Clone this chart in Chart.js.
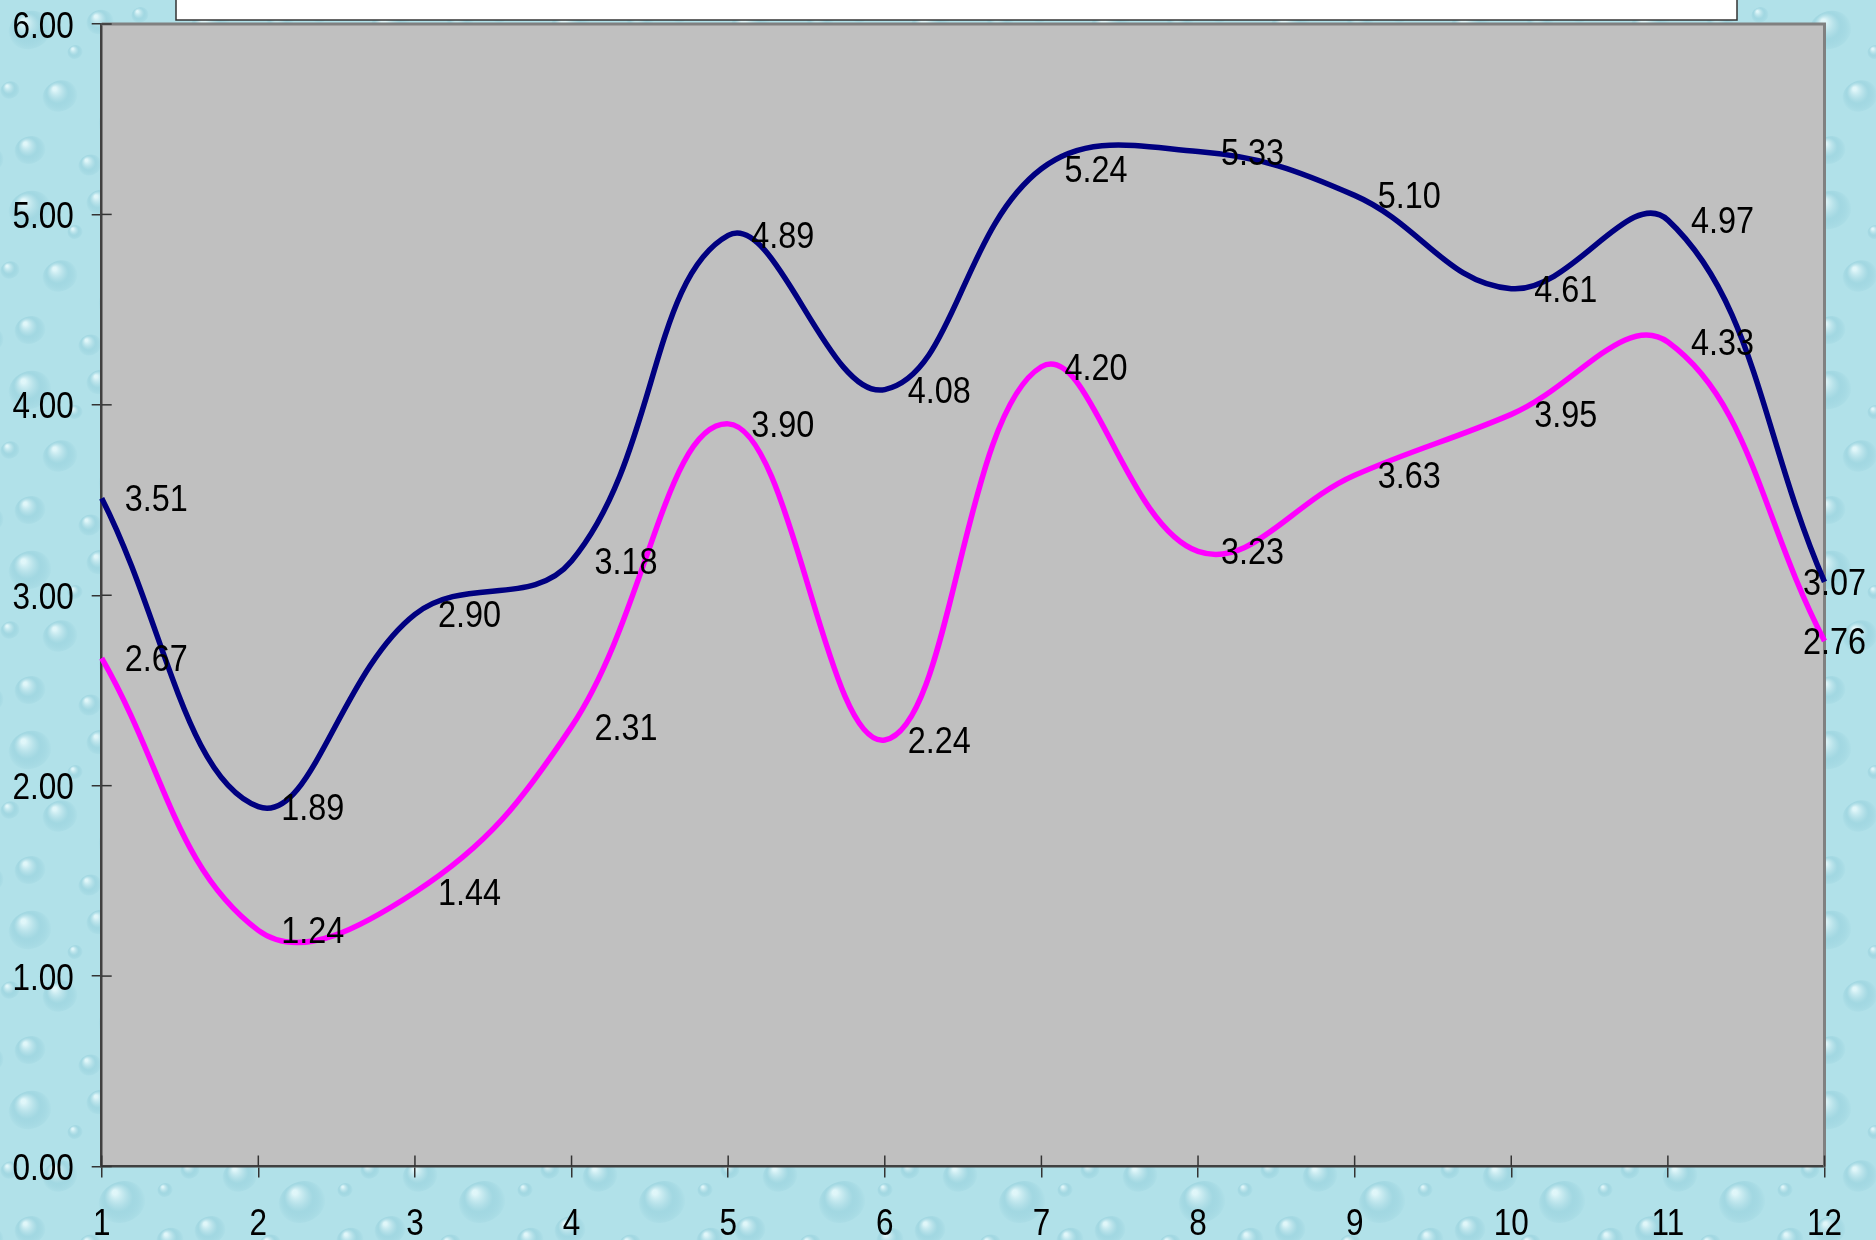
<!DOCTYPE html>
<html><head><meta charset="utf-8">
<script src="https://cdn.jsdelivr.net/npm/chart.js@4.4.0/dist/chart.umd.min.js"></script>
<style>html,body{margin:0;padding:0;background:#b3e3ea;overflow:hidden}#wrap{width:1876px;height:1240px;position:relative}</style>
</head><body><div id="wrap"><canvas id="c"></canvas></div>
<script>
const categories = ['1','2','3','4','5','6','7','8','9','10','11','12'];
const seriesBlue = [3.51, 1.89, 2.90, 3.18, 4.89, 4.08, 5.24, 5.33, 5.10, 4.61, 4.97, 3.07];
const seriesMagenta = [2.67, 1.24, 1.44, 2.31, 3.90, 2.24, 4.20, 3.23, 3.63, 3.95, 4.33, 2.76];
const yTicks = [0, 1, 2, 3, 4, 5, 6];

const FONT = '"Liberation Sans", Arial, sans-serif';

function makePattern(ctx) {
  const S = 180;
  const c = document.createElement('canvas'); c.width = S; c.height = S;
  const g = c.getContext('2d');
  g.fillStyle = '#b1e1e9'; g.fillRect(0, 0, S, S);
  const drops = [[30,30,22],[100,22,14],[150,62,26],[60,96,18],[122,122,24],[30,150,16],[90,165,12],[170,160,14],[10,90,10],[75,52,8],[140,15,9],[165,110,8]];
  for (const [x, y, r] of drops) {
    for (const dx of [-S, 0, S]) for (const dy of [-S, 0, S]) {
      const cx = x + dx, cy = y + dy;
      const grd = g.createRadialGradient(cx - r*0.3, cy - r*0.4, r*0.1, cx, cy, r);
      grd.addColorStop(0, 'rgba(232,250,252,0.85)');
      grd.addColorStop(0.55, 'rgba(150,208,220,0.55)');
      grd.addColorStop(1, 'rgba(125,192,208,0.0)');
      g.fillStyle = grd;
      g.beginPath(); g.ellipse(cx, cy, r, r*0.85, -0.4, 0, Math.PI*2); g.fill();
    }
  }
  return ctx.createPattern(c, 'repeat');
}

// draws vertically stretched text (Excel-like), centred vertically on cy
function stretchedText(ctx, txt, x, cy, size, stretch, align) {
  ctx.save();
  ctx.font = size + 'px ' + FONT;
  ctx.textAlign = align;
  ctx.textBaseline = 'alphabetic';
  const cap = 0.716 * size * stretch;
  ctx.translate(x, cy + cap / 2);
  ctx.scale(1, stretch);
  ctx.fillText(txt, 0, 0);
  ctx.restore();
}

const bgPlugin = {
  id: 'bg',
  beforeDraw(chart) {
    const ctx = chart.ctx, a = chart.chartArea;
    ctx.save();
    ctx.fillStyle = makePattern(ctx);
    ctx.fillRect(0, 0, chart.width, chart.height);
    ctx.fillStyle = '#c0c0c0';
    ctx.fillRect(a.left, a.top, a.right - a.left, a.bottom - a.top);
    ctx.restore();
  },
  beforeDatasetsDraw(chart) {
    const ctx = chart.ctx, a = chart.chartArea;
    ctx.save();
    ctx.strokeStyle = '#808080'; ctx.lineWidth = 3;
    ctx.beginPath(); ctx.moveTo(a.left, a.top); ctx.lineTo(a.right, a.top); ctx.lineTo(a.right, a.bottom); ctx.stroke();
    ctx.strokeStyle = '#333'; ctx.lineWidth = 1.5;
    const ys = chart.scales.y, xs = chart.scales.x;
    ys.ticks.forEach(t => { const p = ys.getPixelForValue(t.value); ctx.beginPath(); ctx.moveTo(a.left, p); ctx.lineTo(a.left + 10, p); ctx.stroke(); });
    xs.ticks.forEach((t, i) => { const p = xs.getPixelForTick(i); ctx.beginPath(); ctx.moveTo(p, a.bottom); ctx.lineTo(p, a.bottom - 11); ctx.stroke(); });
    ctx.fillStyle = '#000';
    // axis tick labels
    ys.ticks.forEach(t => stretchedText(ctx, t.label, a.left - 28, ys.getPixelForValue(t.value), 31.5, 1.2, 'right'));
    xs.ticks.forEach((t, i) => stretchedText(ctx, String(t.label), xs.getPixelForTick(i), a.bottom + 55, 31.5, 1.2, 'center'));
    ctx.restore();
  },
  afterDatasetsDraw(chart) {
    const ctx = chart.ctx;
    ctx.save();
    ctx.fillStyle = '#000';
    const size = 32.4;
    ctx.font = size + 'px ' + FONT;
    chart.data.datasets.forEach((ds, di) => {
      const meta = chart.getDatasetMeta(di);
      meta.data.forEach((pt, j) => {
        const txt = ds.data[j].toFixed(2);
        const w = ctx.measureText(txt).width;
        let x = pt.x + 23;
        if (x + w > chart.width - 10) x = chart.width - 10 - w;
        stretchedText(ctx, txt, x, pt.y, size, 1.12, 'left');
      });
    });
    ctx.restore();
  },
  afterDraw(chart) {
    const ctx = chart.ctx;
    ctx.save();
    ctx.fillStyle = '#fff'; ctx.strokeStyle = '#333'; ctx.lineWidth = 1.5;
    ctx.fillRect(176, -2, 1561, 22);
    ctx.strokeRect(176, -2, 1561, 22);
    ctx.restore();
  }
};

new Chart(document.getElementById('c'), {
  type: 'line',
  data: {
    labels: categories,
    datasets: [
      { label: 'A', data: seriesBlue, borderColor: '#000080', borderWidth: 5.5, pointRadius: 0, tension: 0.4, fill: false },
      { label: 'B', data: seriesMagenta, borderColor: '#ff00ff', borderWidth: 5.5, pointRadius: 0, tension: 0.4, fill: false }
    ]
  },
  options: {
    responsive: true, maintainAspectRatio: false, animation: false,
    layout: { padding: { top: 24, right: 51.5, left: 0, bottom: 0 } },
    plugins: { legend: { display: false }, tooltip: { enabled: false }, title: { display: false } },
    scales: {
      x: {
        type: 'category', offset: false,
        grid: { display: true, drawOnChartArea: false, drawTicks: true, tickLength: 11, color: '#333', lineWidth: 1.5 },
        border: { display: true, color: '#404040', width: 2.5 },
        ticks: { display: false, autoSkip: false, maxRotation: 0 },
        afterFit(s) { s.height = 73.5; }
      },
      y: {
        min: 0, max: 6,
        afterBuildTicks(s) { s.ticks = yTicks.map(v => ({ value: v })); },
        grid: { display: true, drawOnChartArea: false, drawTicks: true, tickLength: 10, color: '#333', lineWidth: 1.5 },
        border: { display: true, color: '#404040', width: 2.5 },
        ticks: { display: false, callback: v => Number(v).toFixed(2) },
        afterFit(s) { s.width = 101.7; }
      }
    }
  },
  plugins: [bgPlugin]
});
</script></body></html>
